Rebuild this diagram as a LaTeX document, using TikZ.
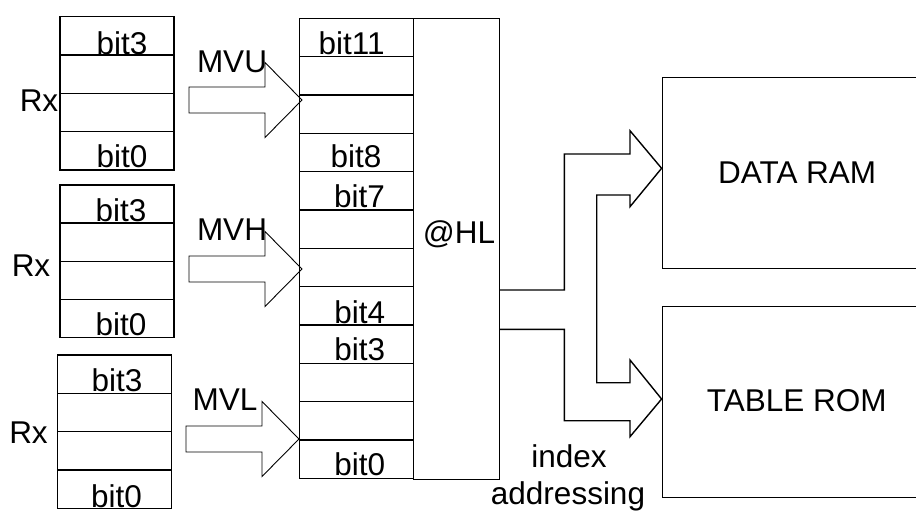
\documentclass[tikz,border=0pt]{standalone}
\usepackage{fontspec}
\setmainfont{Liberation Sans}
\usetikzlibrary{calc}
\begin{document}
\begin{tikzpicture}[x=1pt,y=-1pt,
  cell/.style={draw, line width=1.4pt, minimum width=114pt, inner sep=0pt, outer sep=0pt},
  lbl/.style={font=\fontsize{31.5}{31.5}\selectfont, inner sep=0pt, anchor=base},
  blockarrow/.style={draw, line width=0.9pt, line join=miter},
  bigbox/.style={draw, line width=1.4pt, minimum width=268pt, minimum height=191pt, inner sep=0pt},
  barrow/.pic={\draw[blockarrow] (0,-13) -- (76,-13) -- (76,-37.5) -- (113,0) -- (76,37.5) -- (76,13) -- (0,13) -- cycle;}
]
\useasboundingbox (0,0) rectangle (916,512);
\clip (0,0) rectangle (916,512);

% register 1
\foreach \i in {1,...,4}
  \node[cell, minimum height=38.3pt] (ra\i) at (117, {16.7+19.15+(\i-1)*38.3}) {};
% register 2
\foreach \i in {1,...,4}
  \node[cell, minimum height=38.1pt] (rb\i) at (117, {185+19.05+(\i-1)*38.1}) {};
% register 3
\foreach \i in {1,...,4}
  \node[cell, minimum height=38.3pt] (rc\i) at (114.5, {355+19.15+(\i-1)*38.3}) {};
% middle register
\foreach \i in {1,...,12}
  \node[cell, minimum height=38.33pt] (m\i) at (356.3, {18.3+19.17+(\i-1)*38.33}) {};
% @HL
\node[draw, line width=1.4pt, minimum width=86pt, minimum height=461pt, inner sep=0pt] (hl) at (456.3, 249) {};
\node[lbl] (hltxt) at (459, 243) {@HL};

% register labels
\node[lbl] (la3) at (122, 54) {bit3};
\node[lbl] (la0) at (122, 167.5) {bit0};
\node[lbl] (lb3) at (121, 221) {bit3};
\node[lbl] (lb0) at (121, 335.5) {bit0};
\node[lbl] (lc3) at (117, 391.5) {bit3};
\node[lbl] (lc0) at (116.5, 507) {bit0};

\node[lbl] (rxa) at (39, 111.5) {Rx};
\node[lbl] (rxb) at (31, 276.5) {Rx};
\node[lbl] (rxc) at (28.5, 443.3) {Rx};

% middle labels
\node[lbl] (m11) at (351.7, 54.5) {bit11};
\node[lbl] (m8) at (356, 167) {bit8};
\node[lbl] (m7) at (359.5, 207) {bit7};
\node[lbl] (m4) at (359.7, 323.5) {bit4};
\node[lbl] (m3l) at (359.7, 360.5) {bit3};
\node[lbl] (m0) at (359.7, 475.5) {bit0};

% block arrows
\pic (aru) at (189,100) {barrow};
\pic (arh) at (189,269) {barrow};
\pic (arl) at (186,439) {barrow};
\node[lbl] (mvu) at (232, 72.5) {MVU};
\node[lbl] (mvh) at (232, 240.5) {MVH};
\node[lbl] (mvl) at (225, 410) {MVL};

% memories
\node[bigbox] (ram) at (796.3, 172.8) {};
\node[lbl] (ramtxt) at (797.2, 183.3) {DATA RAM};
\node[bigbox] (rom) at (796.3, 402) {};
\node[lbl] (romtxt) at (796.7, 411.5) {TABLE ROM};

% index addressing bus
\draw[line width=1.4pt, line join=miter]
  (hl.east |- 0,290) -- (564.3,290) -- (564.3,154) -- (630,154) -- (630,130.7)
  -- (ram.west |- 0,168.3) -- (630,206.7) -- (630,195) -- (596.7,195) -- (596.7,382.7)
  -- (630,382.7) -- (630,360) -- (rom.west |- 0,399) -- (630,436.7) -- (630,420.7)
  -- (564.3,420.7) -- (564.3,329.3) -- (hl.east |- 0,329.3);
\node[lbl] (idx) at (569, 467) {index};
\node[lbl] (addr) at (568, 504.5) {addressing};
\end{tikzpicture}
\end{document}
